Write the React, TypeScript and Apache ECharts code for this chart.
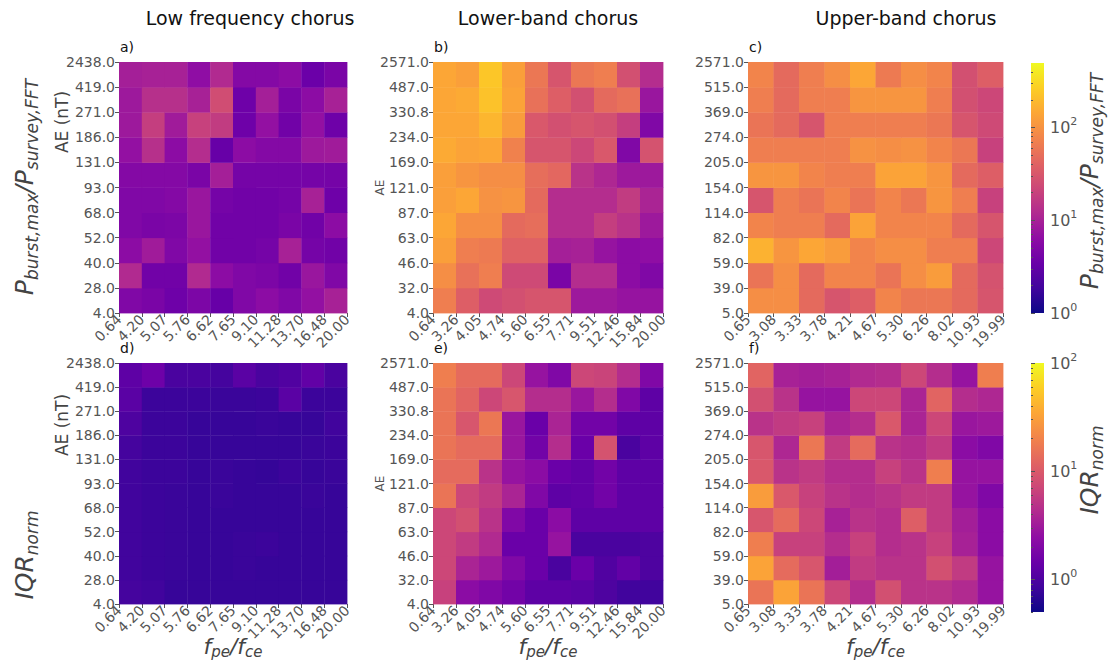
import React, { useEffect, useRef } from "react";
import * as echarts from "echarts";

// ---------- texts ----------
const columnTitles = ["Low frequency chorus", "Lower-band chorus", "Upper-band chorus"];
const panelLetters = ["a)", "b)", "c)", "d)", "e)", "f)"];

// ---------- bin-edge tick labels ----------
const xLabelsLowFreq = ["0.64", "4.20", "5.07", "5.76", "6.62", "7.65", "9.10", "11.28", "13.70", "16.48", "20.00"];
const xLabelsLowerBand = ["0.64", "3.26", "4.05", "4.74", "5.60", "6.55", "7.71", "9.51", "12.46", "15.84", "20.00"];
const xLabelsUpperBand = ["0.65", "3.08", "3.33", "3.78", "4.21", "4.67", "5.30", "6.26", "8.02", "10.93", "19.99"];
const yLabelsLowFreq = ["4.0", "28.0", "40.0", "52.0", "68.0", "93.0", "131.0", "186.0", "271.0", "419.0", "2438.0"];
const yLabelsLowerBand = ["4.0", "32.0", "46.0", "63.0", "87.0", "121.0", "169.0", "234.0", "330.8", "487.0", "2571.0"];
const yLabelsUpperBand = ["5.0", "39.0", "59.0", "82.0", "114.0", "154.0", "205.0", "274.0", "369.0", "515.0", "2571.0"];

// ---------- values: rows from lowest AE bin (first) to highest (last) ----------
const ratioLowFreq = [
  [5.0, 4.5, 3.7, 4.7, 3.3, 5.0, 6.1, 5.0, 6.9, 10.0],
  [12.0, 3.9, 3.9, 12.0, 6.1, 5.0, 4.7, 3.9, 7.8, 5.0],
  [6.1, 8.8, 5.0, 6.9, 3.9, 3.9, 4.2, 10.0, 4.2, 3.9],
  [5.0, 4.5, 4.7, 7.8, 3.9, 3.9, 3.9, 4.5, 3.9, 6.1],
  [5.0, 5.0, 5.4, 7.8, 4.2, 3.9, 3.9, 4.2, 10.0, 3.7],
  [5.4, 5.4, 5.4, 4.5, 9.4, 4.2, 4.2, 4.2, 4.2, 4.2],
  [6.9, 13.6, 6.1, 12.8, 3.3, 6.1, 5.4, 5.4, 8.3, 8.8],
  [8.3, 18.6, 8.8, 19.8, 17.5, 3.7, 6.9, 3.9, 6.9, 3.7],
  [8.3, 13.6, 13.6, 10.0, 25.4, 3.7, 9.4, 4.5, 6.1, 10.0],
  [9.4, 10.0, 10.0, 6.5, 12.0, 5.4, 5.4, 6.1, 3.5, 4.5],
];
const ratioLowerBand = [
  [68.5, 36.8, 23.8, 27.0, 30.5, 30.5, 8.3, 8.3, 7.3, 7.3],
  [93.5, 53.5, 68.5, 23.8, 23.8, 4.5, 12.8, 12.8, 6.1, 5.0],
  [128, 68.5, 64.4, 39.2, 39.2, 9.4, 10.0, 7.3, 6.1, 6.5],
  [145, 93.5, 93.5, 47.2, 50.2, 12.8, 12.8, 18.6, 14.5, 8.3],
  [128, 145, 99.5, 106, 47.2, 12.8, 12.8, 12.8, 17.5, 10.6],
  [128, 106, 93.5, 93.5, 50.2, 44.4, 14.5, 11.3, 8.3, 8.3],
  [154, 136, 145, 72.9, 30.5, 30.5, 22.4, 32.5, 5.0, 28.7],
  [145, 145, 185, 120, 32.5, 27.0, 30.5, 27.0, 18.6, 5.0],
  [145, 154, 223, 136, 53.5, 36.8, 27.0, 47.2, 53.5, 7.8],
  [145, 128, 238, 128, 60.5, 30.5, 60.5, 68.5, 27.0, 12.8],
];
const ratioUpperBand = [
  [93.5, 93.5, 47.2, 30.5, 36.8, 77.6, 60.5, 60.5, 47.2, 30.5],
  [56.9, 93.5, 47.2, 77.6, 77.6, 56.9, 93.5, 120, 47.2, 28.7],
  [174, 106, 145, 120, 77.6, 93.5, 93.5, 68.5, 68.5, 22.4],
  [77.6, 68.5, 68.5, 47.2, 136, 77.6, 77.6, 77.6, 47.2, 30.5],
  [30.5, 68.5, 56.9, 77.6, 56.9, 77.6, 60.5, 106, 68.5, 19.8],
  [106, 106, 77.6, 68.5, 68.5, 136, 136, 106, 47.2, 36.8],
  [68.5, 68.5, 68.5, 68.5, 99.5, 93.5, 99.5, 77.6, 60.5, 19.8],
  [56.9, 47.2, 30.5, 68.5, 68.5, 68.5, 68.5, 60.5, 30.5, 23.8],
  [68.5, 47.2, 68.5, 68.5, 106, 106, 106, 68.5, 27.0, 22.4],
  [77.6, 47.2, 68.5, 93.5, 145, 64.4, 93.5, 77.6, 27.0, 36.8],
];
const iqrLowFreq = [
  [0.9, 0.85, 0.77, 0.77, 0.77, 0.77, 0.77, 0.77, 0.77, 0.77],
  [0.85, 0.81, 0.79, 0.77, 0.77, 0.79, 0.77, 0.77, 0.77, 0.77],
  [0.85, 0.81, 0.79, 0.77, 0.77, 0.79, 0.81, 0.77, 0.77, 0.77],
  [0.85, 0.81, 0.79, 0.77, 0.77, 0.77, 0.77, 0.77, 0.77, 0.77],
  [0.85, 0.81, 0.79, 0.77, 0.79, 0.77, 0.77, 0.77, 0.79, 0.77],
  [0.85, 0.81, 0.81, 0.77, 0.79, 0.77, 0.75, 0.81, 0.77, 0.79],
  [0.9, 0.81, 0.81, 0.77, 0.77, 0.77, 0.77, 0.77, 0.79, 0.81],
  [1.0, 0.81, 0.81, 0.77, 0.77, 0.77, 0.79, 0.77, 0.77, 0.85],
  [1.17, 0.81, 0.81, 0.81, 0.79, 0.79, 0.81, 1.17, 0.81, 0.81],
  [1.23, 1.52, 0.95, 0.95, 0.9, 1.17, 0.95, 1.05, 1.3, 0.95],
];
const iqrLowerBand = [
  [6.37, 2.33, 1.99, 1.61, 1.23, 1.23, 1.17, 1.0, 0.85, 0.85],
  [7.08, 3.75, 3.03, 1.99, 1.45, 0.95, 1.45, 1.05, 1.3, 1.0],
  [7.08, 5.73, 4.17, 1.45, 1.45, 2.73, 0.95, 0.95, 0.95, 1.0],
  [7.08, 8.3, 4.89, 1.99, 1.45, 2.33, 1.23, 1.23, 1.23, 1.23],
  [15.7, 7.08, 5.73, 3.75, 1.99, 1.23, 1.3, 1.61, 1.23, 1.23],
  [13.4, 13.4, 4.89, 2.73, 2.33, 1.45, 1.3, 1.61, 1.23, 1.23],
  [15.7, 13.4, 13.4, 2.88, 1.61, 4.4, 1.45, 8.75, 0.95, 1.23],
  [15.7, 9.23, 16.5, 2.88, 1.45, 3.75, 1.61, 1.61, 1.23, 1.23],
  [15.7, 12.0, 7.08, 9.23, 4.4, 4.4, 2.88, 4.4, 1.99, 1.23],
  [18.4, 13.4, 13.4, 7.08, 2.73, 1.99, 7.08, 6.71, 4.4, 1.99],
];
const iqrUpperBand = [
  [15.7, 32.9, 15.7, 7.08, 4.4, 8.3, 4.89, 4.89, 4.17, 2.73],
  [32.9, 13.4, 9.23, 3.37, 5.73, 4.89, 4.89, 8.3, 5.73, 2.73],
  [18.4, 6.37, 6.37, 4.4, 6.37, 4.4, 4.89, 6.37, 3.56, 2.33],
  [9.23, 13.4, 7.08, 3.56, 4.89, 4.4, 10.8, 5.73, 3.37, 2.33],
  [29.6, 9.73, 6.37, 4.89, 4.4, 4.89, 5.73, 5.73, 2.73, 1.99],
  [9.73, 4.89, 5.73, 4.4, 4.4, 6.37, 4.89, 18.4, 2.73, 2.73],
  [9.23, 3.95, 16.5, 5.73, 13.4, 4.89, 4.4, 5.73, 2.33, 1.99],
  [4.89, 5.73, 6.37, 3.75, 4.4, 9.73, 3.75, 7.08, 2.88, 3.03],
  [8.3, 4.89, 2.73, 2.73, 7.08, 7.08, 3.75, 12.0, 4.4, 3.95],
  [12.0, 3.56, 3.37, 3.56, 4.17, 4.4, 7.08, 4.4, 2.73, 18.4],
];

// ---------- colour scale ----------
const plasma = ["#0d0887", "#41049d", "#6a00a8", "#8f0da4", "#b12a90", "#cc4778", "#e16462", "#f2844b", "#fca636", "#fcce25", "#f0f921"];
const ratioRange = [1, 500];
const iqrRange = [0.5, 100];
const colorbarExponents = [0, 1, 2];

// ---------- layout ----------
const FONT = "DejaVu Sans";
const panelLefts = [119, 433, 748];
const panelWidths = [228, 230, 255];
const rowTops = [62, 363];
const rowHeights = [251, 241];
const titleCenters = [250, 548, 906];
const cbarLeft = 1031;
const cbarWidth = 13;
const cbarTops = [63, 363];
const cbarHeights = [250, 249];

const panels = [
  { values: ratioLowFreq, xl: xLabelsLowFreq, yl: yLabelsLowFreq },
  { values: ratioLowerBand, xl: xLabelsLowerBand, yl: yLabelsLowerBand },
  { values: ratioUpperBand, xl: xLabelsUpperBand, yl: yLabelsUpperBand },
  { values: iqrLowFreq, xl: xLabelsLowFreq, yl: yLabelsLowFreq },
  { values: iqrLowerBand, xl: xLabelsLowerBand, yl: yLabelsLowerBand },
  { values: iqrUpperBand, xl: xLabelsUpperBand, yl: yLabelsUpperBand },
];

function minorLogTicks(lo: number, hi: number): number[] {
  const out: number[] = [];
  for (let e = -2; e <= 3; e++) {
    for (let k = 2; k <= 9; k++) {
      const v = Math.log10(k) + e;
      if (v > lo && v < hi) out.push(v);
    }
  }
  return out;
}

function buildOption(): any {
  const grids: any[] = [];
  const xAxes: any[] = [];
  const yAxes: any[] = [];
  const series: any[] = [];
  const graphics: any[] = [];

  panels.forEach((p, i) => {
    const row = Math.floor(i / 3);
    const col = i % 3;
    grids.push({ left: panelLefts[col], top: rowTops[row], width: panelWidths[col], height: rowHeights[row] });
    xAxes.push({
      gridIndex: i,
      type: "value",
      min: 0,
      max: 10,
      interval: 1,
      axisLine: { show: false },
      splitLine: { show: false },
      axisTick: { show: true, length: 4, lineStyle: { color: "#555" } },
      axisLabel: {
        rotate: 45,
        fontSize: 14,
        color: "#555",
        fontFamily: FONT,
        margin: 4,
        formatter: (v: number) => p.xl[Math.round(v)],
      },
    });
    yAxes.push({
      gridIndex: i,
      type: "value",
      min: 0,
      max: 10,
      interval: 1,
      axisLine: { show: false },
      splitLine: { show: false },
      axisTick: { show: true, length: 4, lineStyle: { color: "#555" } },
      axisLabel: {
        fontSize: 14,
        color: "#555",
        fontFamily: FONT,
        margin: 4,
        formatter: (v: number) => p.yl[Math.round(v)],
      },
    });
    const data: number[][] = [];
    p.values.forEach((rowVals, yi) => {
      rowVals.forEach((v, xi) => data.push([xi, yi, Math.log10(v)]));
    });
    series.push({
      type: "custom",
      xAxisIndex: i,
      yAxisIndex: i,
      data,
      renderItem: (params: any, api: any) => {
        const x = api.value(0);
        const y = api.value(1);
        const p0 = api.coord([x, y]);
        const p1 = api.coord([x + 1, y + 1]);
        return {
          type: "rect",
          shape: { x: p0[0], y: p1[1], width: p1[0] - p0[0] + 0.4, height: p0[1] - p1[1] + 0.4 },
          style: { fill: api.visual("color") },
        };
      },
    });
    graphics.push({
      type: "text",
      x: panelLefts[col] + 1,
      y: rowTops[row] - 15,
      style: { text: panelLetters[i], fontSize: 14, fontFamily: FONT, fill: "#111", align: "left", verticalAlign: "middle" },
    });
  });

  // colour bars
  const ranges = [ratioRange, iqrRange];
  ranges.forEach((rg, r) => {
    const lo = Math.log10(rg[0]);
    const hi = Math.log10(rg[1]);
    const gi = grids.length;
    grids.push({ left: cbarLeft, top: cbarTops[r], width: cbarWidth, height: cbarHeights[r] });
    xAxes.push({ gridIndex: gi, type: "value", min: 0, max: 1, show: false });
    yAxes.push({
      gridIndex: gi,
      type: "value",
      position: "right",
      min: lo,
      max: hi,
      axisLine: { show: false },
      splitLine: { show: false },
      axisTick: { show: true, length: 4, customValues: colorbarExponents, lineStyle: { color: "#555" } },
      axisLabel: {
        customValues: colorbarExponents,
        margin: 6,
        formatter: (v: number) => `{b|10}{sup|${Math.round(v)}}`,
        rich: {
          b: { fontSize: 16, color: "#555", fontFamily: FONT, lineHeight: 19 },
          sup: { fontSize: 11, color: "#555", fontFamily: FONT, lineHeight: 11, padding: [0, 0, 12, 0] },
        },
      },
    });
    const gm = grids.length;
    grids.push({ left: cbarLeft, top: cbarTops[r], width: cbarWidth, height: cbarHeights[r] });
    xAxes.push({ gridIndex: gm, type: "value", min: 0, max: 1, show: false });
    yAxes.push({
      gridIndex: gm,
      type: "value",
      position: "right",
      min: lo,
      max: hi,
      axisLine: { show: false },
      splitLine: { show: false },
      axisTick: { show: true, length: 2, customValues: minorLogTicks(lo, hi), lineStyle: { color: "#555" } },
      axisLabel: { show: false },
    });
    graphics.push({
      type: "rect",
      shape: { x: cbarLeft, y: cbarTops[r], width: cbarWidth, height: cbarHeights[r] },
      style: {
        fill: new echarts.graphic.LinearGradient(
          0, 1, 0, 0,
          plasma.map((c, k) => ({ offset: k / (plasma.length - 1), color: c }))
        ),
      },
    });
  });

  // column titles
  columnTitles.forEach((t, c) => {
    graphics.push({
      type: "text",
      x: titleCenters[c],
      y: 18,
      style: { text: t, fontSize: 19, fontFamily: FONT, fill: "#111", align: "center", verticalAlign: "middle" },
    });
  });

  const bigRich = {
    i: { fontSize: 25, fontStyle: "italic", fontFamily: FONT, fill: "#444", color: "#444", lineHeight: 29 },
    s: { fontSize: 17, fontStyle: "italic", fontFamily: FONT, fill: "#444", color: "#444", lineHeight: 18, padding: [16, 0, 0, 0] },
  };
  const midRich = {
    i: { fontSize: 22, fontStyle: "italic", fontFamily: FONT, fill: "#444", color: "#444", lineHeight: 24 },
    s: { fontSize: 15, fontStyle: "italic", fontFamily: FONT, fill: "#444", color: "#444", lineHeight: 15, padding: [11, 0, 0, 0] },
  };
  const ratioLabel = "{i|P}{s|burst,max}{i|/P}{s|survey,FFT}";
  const iqrLabel = "{i|IQR}{s|norm}";
  const fLabel = "{i|f}{s|pe}{i|/f}{s|ce}";

  // left labels
  graphics.push({
    type: "text", x: 24, y: 187, rotation: Math.PI / 2,
    style: { text: ratioLabel, rich: bigRich, align: "center", verticalAlign: "middle" },
  });
  graphics.push({
    type: "text", x: 24, y: 555, rotation: Math.PI / 2,
    style: { text: iqrLabel, rich: bigRich, align: "center", verticalAlign: "middle" },
  });
  [122, 425].forEach((cy) => {
    graphics.push({
      type: "text", x: 62, y: cy, rotation: Math.PI / 2,
      style: { text: "AE (nT)", fontSize: 17, fontFamily: FONT, fill: "#444", align: "center", verticalAlign: "middle" },
    });
  });
  rowTops.forEach((top, r) => {
    graphics.push({
      type: "text", x: panelLefts[1] - 53, y: top + rowHeights[r] / 2, rotation: Math.PI / 2,
      style: { text: "AE", fontSize: 12, fontFamily: FONT, fill: "#555", align: "center", verticalAlign: "middle" },
    });
  });

  // colour bar labels
  graphics.push({
    type: "text", x: 1089, y: 181, rotation: Math.PI / 2,
    style: { text: ratioLabel, rich: bigRich, align: "center", verticalAlign: "middle" },
  });
  graphics.push({
    type: "text", x: 1089, y: 470, rotation: Math.PI / 2,
    style: { text: iqrLabel, rich: bigRich, align: "center", verticalAlign: "middle" },
  });

  // bottom x labels
  panelLefts.forEach((l, c) => {
    graphics.push({
      type: "text", x: l + panelWidths[c] / 2, y: 646,
      style: { text: fLabel, rich: midRich, align: "center", verticalAlign: "middle" },
    });
  });

  return {
    animation: false,
    backgroundColor: "#ffffff",
    grid: grids,
    xAxis: xAxes,
    yAxis: yAxes,
    visualMap: [
      {
        type: "continuous", show: false, dimension: 2, seriesIndex: [0, 1, 2],
        min: Math.log10(ratioRange[0]), max: Math.log10(ratioRange[1]), inRange: { color: plasma },
      },
      {
        type: "continuous", show: false, dimension: 2, seriesIndex: [3, 4, 5],
        min: Math.log10(iqrRange[0]), max: Math.log10(iqrRange[1]), inRange: { color: plasma },
      },
    ],
    series,
    graphic: graphics,
  };
}

export default function App() {
  const ref = useRef<HTMLDivElement>(null);
  useEffect(() => {
    if (!ref.current) return;
    const chart = echarts.init(ref.current, undefined, { renderer: "svg" });
    chart.setOption(buildOption());
    return () => chart.dispose();
  }, []);
  return <div ref={ref} style={{ position: "absolute", left: 0, top: 0, width: 1110, height: 664 }} />;
}
